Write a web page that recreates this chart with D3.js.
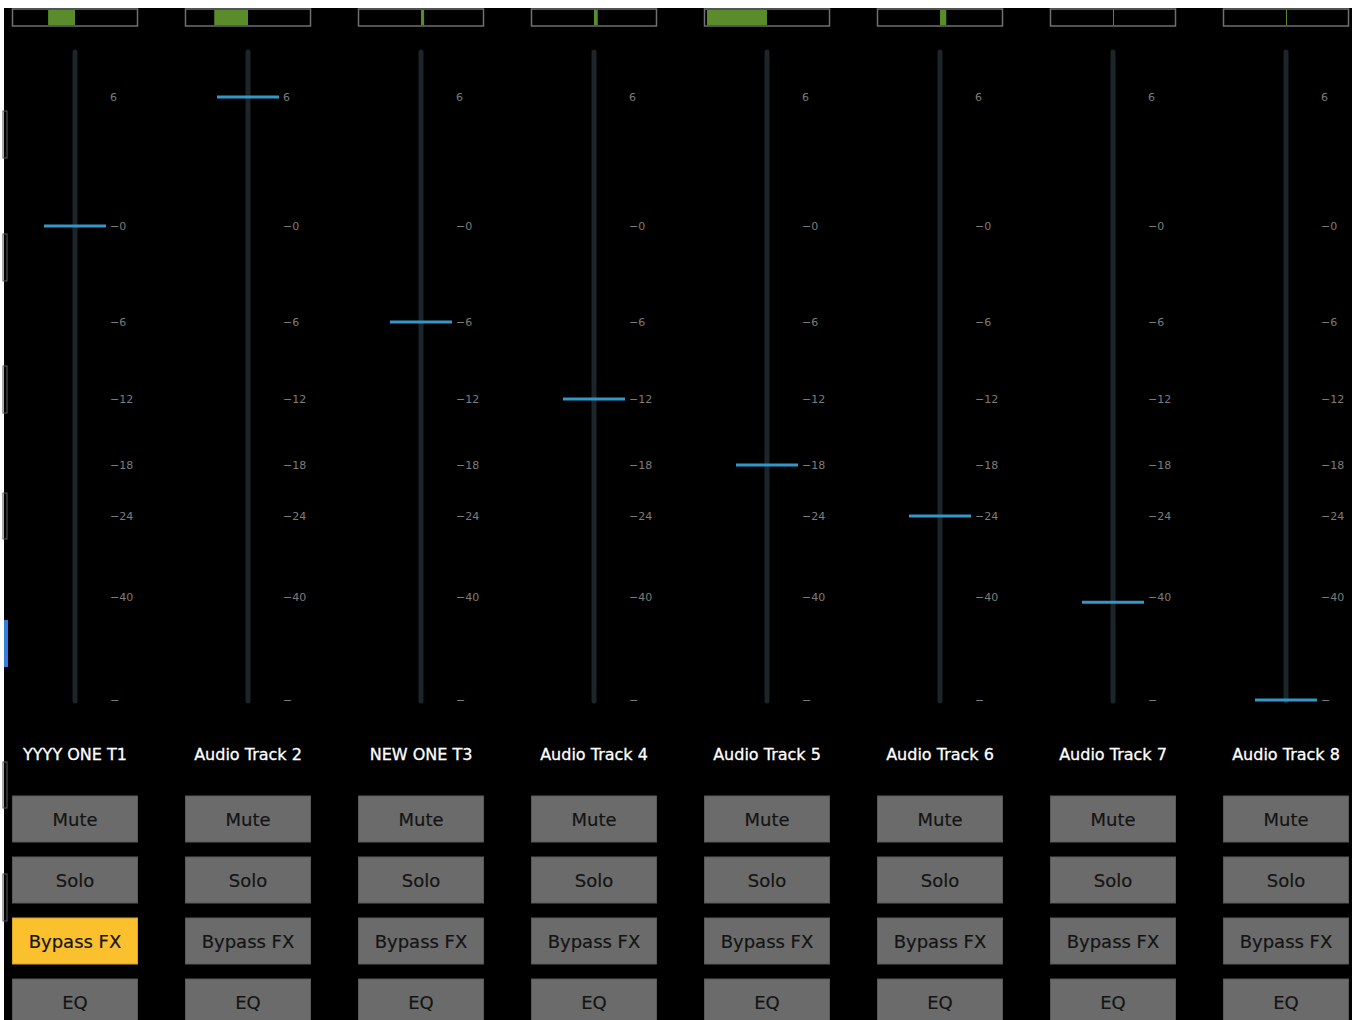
<!DOCTYPE html>
<html>
<head>
  <script src="https://cdnjs.cloudflare.com/ajax/libs/d3/7.8.5/d3.min.js"></script>
  <style>
    body, html { margin: 0; padding: 0; background: #fff; overflow: hidden; }
    svg { display: block; font-family: "DejaVu Sans", Verdana, sans-serif; }
  </style>
</head>
<body>
<svg id="mixer" width="1356" height="1020"></svg>
<script>
// track data
const tracks = ["YYYY ONE T1", "Audio Track 2", "NEW ONE T3", "Audio Track 4",
                "Audio Track 5", "Audio Track 6", "Audio Track 7", "Audio Track 8"];
const faderDb = [0, 6, -6, -12, -18, -24, -41, -60];
// meter fill extents, -1..1 around the box centre
const meterFrom = [-0.43, -0.54, 0, 0, -0.96, 0, 0, 0];
const meterTo = [0, 0, 0.05, 0.06, 0, 0.1, 0.015, 0.015];
const bypassOn = [true, false, false, false, false, false, false, false];
const buttons = ["Mute", "Solo", "Bypass FX", "EQ"];

// fader scale
const scaleDb = [6, 0, -6, -12, -18, -24, -40, -60];
const scaleLabels = ["6", "\u22120", "\u22126", "\u221212", "\u221218", "\u221224", "\u221240", "\u2212"];

// left edge tabs (partly hidden sidebar)
const sideTabs = [[111, 158], [234, 281], [366, 413], [493, 539], [620, 667], [762, 808], [874, 921]];
const sideActive = [false, false, false, false, true, false, false];

const svg = d3.select("#mixer");
const W = 1356, H = 1020;

svg.append("rect").attr("x", 4).attr("y", 8).attr("width", W - 8).attr("height", H - 8).attr("fill", "#000");

const x = d3.scalePoint().domain(tracks).range([75, 75 + 173 * 7]);
const y = d3.scaleLinear().domain(scaleDb).range([97, 226, 322, 399, 465, 516, 597, 700]);
const meter = d3.scaleLinear().domain([-1, 1]).range([-62.5, 62.5]);

// side tabs
svg.append("g").selectAll("rect").data(sideTabs).join("rect")
  .attr("x", (d, i) => sideActive[i] ? 4 : 3)
  .attr("y", d => d[0])
  .attr("width", 4)
  .attr("height", d => d[1] - d[0])
  .attr("fill", (d, i) => sideActive[i] ? "#2f7fe0" : "none")
  .attr("stroke", (d, i) => sideActive[i] ? "none" : "#5a5a5a")
  .attr("stroke-width", 1);

const strip = svg.append("g").selectAll("g").data(tracks).join("g")
  .attr("transform", d => `translate(${x(d)},0)`);

// meter box
strip.append("rect")
  .attr("x", -62.5).attr("y", 9).attr("width", 125).attr("height", 17)
  .attr("fill", "#000").attr("stroke", "#6b7070").attr("stroke-width", 1.5);
strip.append("rect")
  .attr("x", (d, i) => meter(meterFrom[i]))
  .attr("y", 10)
  .attr("width", (d, i) => Math.max(1, meter(meterTo[i]) - meter(meterFrom[i])))
  .attr("height", 15)
  .attr("fill", "#5b8c2b");

// fader track
strip.append("line")
  .attr("x1", 0).attr("x2", 0).attr("y1", 52).attr("y2", 701)
  .attr("stroke", "#1c2529").attr("stroke-width", 5).attr("stroke-linecap", "round");

// scale labels
strip.append("g").selectAll("text").data(scaleDb).join("text")
  .attr("x", 35)
  .attr("y", d => y(d))
  .attr("dy", "0.35em")
  .attr("font-size", 11)
  .attr("fill", "#7c7c7c")
  .text((d, i) => scaleLabels[i]);

// fader handle
strip.append("line")
  .attr("x1", -31).attr("x2", 31)
  .attr("y1", (d, i) => y(faderDb[i])).attr("y2", (d, i) => y(faderDb[i]))
  .attr("stroke", "#3497c9").attr("stroke-width", 3);

// names
strip.append("text")
  .attr("x", 0).attr("y", 754).attr("dy", "0.35em")
  .attr("text-anchor", "middle")
  .attr("font-size", 16)
  .attr("fill", "#fff")
  .attr("stroke", "#fff").attr("stroke-width", 0.3)
  .text(d => d);

// buttons
const btn = strip.selectAll("g.btn").data((d, i) => buttons.map(b => ({ b, i }))).join("g")
  .attr("class", "btn")
  .attr("transform", (d, j) => `translate(0,${796 + 61 * j})`);
btn.append("rect")
  .attr("x", -62.5).attr("y", 0).attr("width", 125).attr("height", 46)
  .attr("fill", d => d.b === "Bypass FX" && bypassOn[d.i] ? "#fbc02d" : "#6b6b6b")
  .attr("stroke", d => d.b === "Bypass FX" && bypassOn[d.i] ? "#d9a21f" : "#5a5a5a")
  .attr("stroke-width", 1);
btn.append("text")
  .attr("x", 0).attr("y", 24).attr("dy", "0.35em")
  .attr("text-anchor", "middle")
  .attr("font-size", 18)
  .attr("fill", "#141414")
  .attr("stroke", "#141414").attr("stroke-width", 0.2)
  .text(d => d.b);
</script>
</body>
</html>
